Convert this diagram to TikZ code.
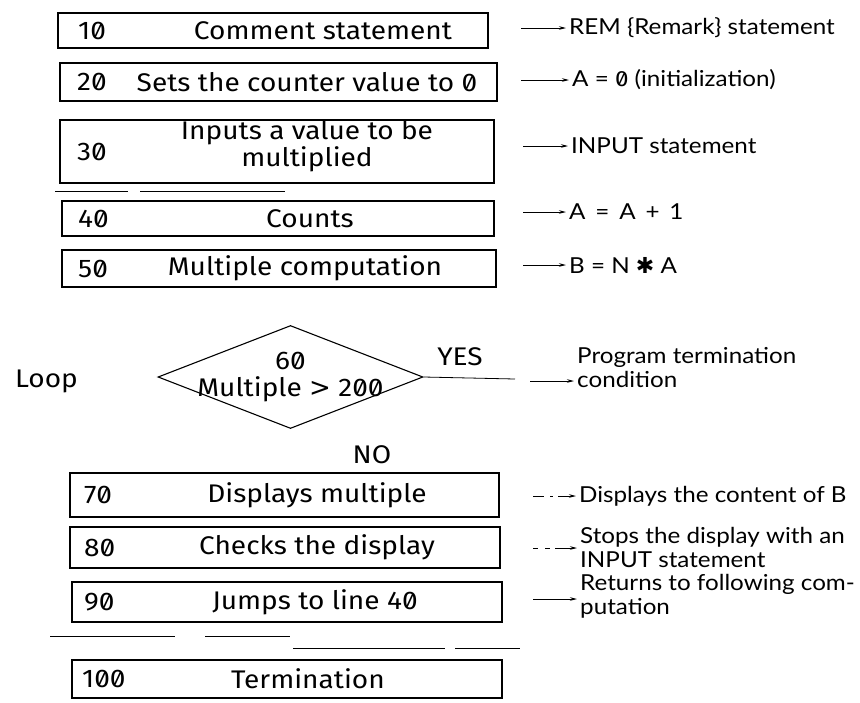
\documentclass[tikz,border=0pt]{standalone}
\usepackage{fontspec}
\setmainfont{Fira Sans}
\newfontfamily\boxfont[FakeStretch=1.1,RawFeature=+zero]{Fira Sans}
\newfontfamily\notefont[FakeStretch=1.1]{Lato}
\newfontfamily\symfont{DejaVu Sans}
\usetikzlibrary{shapes.geometric,arrows.meta}
\begin{document}
\begin{tikzpicture}[x=1pt,y=-1pt,
  box/.style={draw,line width=1.1pt,inner sep=0pt},
  num/.style={anchor=west,font=\boxfont\fontsize{25.5}{27}\selectfont,inner sep=0pt},
  lbl/.style={font=\boxfont\fontsize{25.5}{27}\selectfont,inner sep=0pt,align=center},
  note/.style={anchor=west,font=\notefont\fontsize{22}{24}\selectfont,inner sep=0pt,align=left},
  arr/.style={-{Stealth[length=7pt,width=3.5pt]},line width=0.8pt,shorten >=3pt},
  frag/.style={line width=0.9pt}]
\useasboundingbox (0,0) rectangle (860,702);

% boxes
\node[box,minimum width=430pt,minimum height=35pt] (b10) at (273,30.5) {};
\node[box,minimum width=437pt,minimum height=38pt] (b20) at (278.5,82) {};
\node[box,minimum width=434pt,minimum height=63pt] (b30) at (277,151.5) {};
\node[box,minimum width=432pt,minimum height=35pt] (b40) at (278,218.5) {};
\node[box,minimum width=434pt,minimum height=37pt] (b50) at (279,268.5) {};
\node[box,minimum width=429pt,minimum height=44pt] (b70) at (284.5,495) {};
\node[box,minimum width=430pt,minimum height=41pt] (b80) at (285,547.5) {};
\node[box,minimum width=430pt,minimum height=40pt] (b90) at (287,602) {};
\node[box,minimum width=430pt,minimum height=38pt] (b100) at (287,679) {};

% numbers
\node[num] (n10) at (78,30.5) {10};
\node[num] (n20) at (77,82) {20};
\node[num] (n30) at (77,151.5) {30};
\node[num] (n40) at (78,218.5) {40};
\node[num] (n50) at (78,268.5) {50};
\node[num] (n70) at (84,495) {70};
\node[num] (n80) at (84,547.5) {80};
\node[num] (n90) at (84,602) {90};
\node[num] (n100) at (82,679) {100};

% labels
\node[lbl] (l10) at (323,30.5) {Comment statement};
\node[lbl] (l20) at (307,82) {Sets the counter value to 0};
\node[lbl] (l30) at (307,146) {Inputs a value to be\\multiplied};
\node[lbl] (l40) at (310,218.5) {Counts};
\node[lbl] (l50) at (305,268.5) {Multiple computation};
\node[lbl] (l70) at (317,495) {Displays multiple};
\node[lbl] (l80) at (317,547.5) {Checks the display};
\node[lbl] (l90) at (315,602) {Jumps to line 40};
\node[lbl] (l100) at (308,679) {Termination};

% decision
\node[draw,line width=1.1pt,shape=diamond,aspect=2.57,minimum width=265pt,minimum height=103pt,inner sep=0pt] (d60) at (290.5,377) {};
\node[lbl] (t60) at (290.5,377) {60\\Multiple {\symfont\fontsize{26}{26}\selectfont >} 200};
\node[lbl,anchor=west] (loop) at (15,381) {Loop};
\node[lbl] (yes) at (460,357) {YES};
\node[lbl] (no) at (372,455) {NO};

% notes
\node[note] (r10) at (569,28) {REM \{Remark\} statement};
\node[note] (r20) at (572,80) {A = {\boxfont 0} (initialization)};
\node[note] (r30) at (571,146) {INPUT statement};
\node[note] (r40) at (569,212) {A \,=\, A \,+\, 1};
\node[note] (r50) at (569,265) {B = N {\symfont ✱} A};
\node[note] (r60) at (577,368) {Program termination\\condition};
\node[note] (r70) at (579,496) {Displays the content of B};
\node[note] (r80) at (580,547) {Stops the display with an\\INPUT statement};
\node[note] (r90) at (580,596) {Returns to following com-\\putation};

% arrow starts
\coordinate (s10) at (521,28);
\coordinate (s20) at (521,80);
\coordinate (s30) at (523,146);
\coordinate (s40) at (523,212);
\coordinate (s50) at (523,265);
\coordinate (s70) at (533,496);
\coordinate (s80) at (533,548);
\coordinate (s90) at (533,599);
\coordinate (e60) at (575,381);

\draw[arr] (s10) -- (s10 -| r10.west);
\draw[arr] (s20) -- (s20 -| r20.west);
\draw[arr] (s30) -- (s30 -| r30.west);
\draw[arr] (s40) -- (s40 -| r40.west);
\draw[arr] (s50) -- (s50 -| r50.west);
\draw[arr,dash pattern=on 11pt off 6pt on 3pt off 5pt on 30pt] (s70) -- (s70 -| r70.west);
\draw[arr,dash pattern=on 5pt off 7pt on 5pt off 5pt on 30pt] (s80) -- (s80 -| r80.west);
\draw[arr] (s90) -- (s90 -| r90.west);
\draw[line width=0.8pt] (d60.east) -- (515,379);
\draw[arr,shorten >=1pt] (530,381) -- (e60);

% fragments of scanned lines
\coordinate (f1a) at (55,191); \coordinate (f1b) at (128,191);
\coordinate (f1c) at (140,191); \coordinate (f1d) at (285,191);
\draw[frag] (f1a) -- (f1b);
\draw[frag] (f1c) -- (f1d);
\coordinate (f2a) at (50,636); \coordinate (f2b) at (175,636);
\coordinate (f2c) at (205,636); \coordinate (f2d) at (290,636);
\draw[frag] (f2a) -- (f2b);
\draw[frag] (f2c) -- (f2d);
\coordinate (f3a) at (293,648); \coordinate (f3b) at (445,648);
\coordinate (f3c) at (455,648); \coordinate (f3d) at (520,648);
\draw[frag] (f3a) -- (f3b);
\draw[frag] (f3c) -- (f3d);
\end{tikzpicture}
\end{document}
